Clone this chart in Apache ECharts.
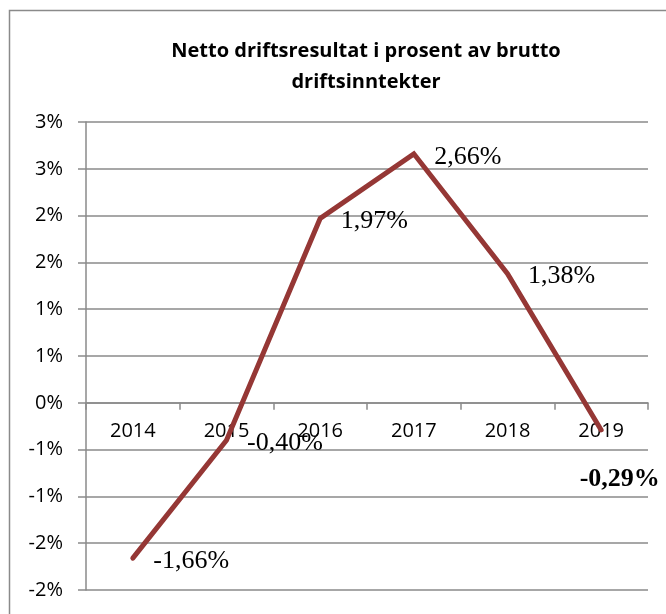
<!DOCTYPE html>
<html>
<head>
<meta charset="utf-8">
<script src="https://cdn.jsdelivr.net/npm/echarts@6/dist/echarts.min.js"></script>
<style>
  html, body { margin: 0; padding: 0; background: #fff; }
  #chart { width: 666px; height: 614px; }
</style>
</head>
<body>
<div id="chart"></div>
<script>
// data
const years = ["2014", "2015", "2016", "2017", "2018", "2019"];
const nettoPct = [-1.66, -0.40, 1.97, 2.66, 1.38, -0.29];
const valueLabels = ["-1,66%", "-0,40%", "1,97%", "2,66%", "1,38%", "-0,29%"];
// Excel rounds the 0.5 steps to whole percents
const yTickLabels = ["-2%", "-2%", "-1%", "-1%", "0%", "1%", "1%", "2%", "2%", "3%", "3%"];

const lineColor = "#953735";
const axisGray = "#8a8a8a";
const sansFont = "Open Sans";
const serifFont = "Liberation Serif";
const yMin = -2;
const yMax = 3;

const chart = echarts.init(document.getElementById("chart"));

const seriesData = nettoPct.map((v, i) => {
    const item = { value: v };
    // last label is bold and moved below the point
    if (i === nettoPct.length - 1) {
        item.label = { fontWeight: "bold", offset: [-42, 49] };
    }
    return item;
});

chart.setOption({
    animation: false,
    title: {
        text: "Netto driftsresultat i prosent av brutto\ndriftsinntekter",
        left: 361,
        top: 31,
        textAlign: "center",
        textStyle: {
            fontFamily: sansFont,
            fontWeight: "bold",
            fontSize: 20,
            lineHeight: 31,
            color: "#000"
        }
    },
    graphic: [
        {
            type: "rect",
            shape: { x: 9.5, y: 10.5, width: 700, height: 700 },
            style: { fill: "none", stroke: axisGray, lineWidth: 1.5 },
            silent: true
        }
    ],
    grid: { left: 86, right: 18, top: 122, bottom: 24, outerBoundsMode: "none" },
    xAxis: {
        type: "category",
        data: years,
        boundaryGap: true,
        axisLine: { onZero: false, lineStyle: { color: axisGray, width: 1.5 } },
        axisTick: { show: true, length: 7, lineStyle: { color: axisGray, width: 1.5 } },
        axisLabel: {
            margin: 18,
            fontFamily: sansFont,
            fontSize: 20,
            color: "#000"
        },
        splitLine: { show: false }
    },
    yAxis: {
        type: "value",
        min: yMin,
        max: yMax,
        interval: 0.5,
        axisLine: { show: true, lineStyle: { color: axisGray, width: 1.5 } },
        axisTick: { show: true, length: 8, lineStyle: { color: axisGray, width: 1.5 } },
        axisLabel: {
            margin: 23,
            fontFamily: sansFont,
            fontSize: 20,
            color: "#000",
            formatter: (value, index) => yTickLabels[index]
        },
        splitLine: { show: true, lineStyle: { color: axisGray, width: 1.5 } }
    },
    series: [
        {
            type: "line",
            data: seriesData,
            showSymbol: true,
            symbol: "circle",
            symbolSize: 1,
            itemStyle: { color: lineColor },
            lineStyle: { color: lineColor, width: 5, cap: "round", join: "miter" },
            label: {
                show: true,
                position: "right",
                distance: 20,
                offset: [0, 3],
                fontFamily: serifFont,
                fontSize: 26,
                color: "#000",
                formatter: p => valueLabels[p.dataIndex]
            }
        }
    ]
});

// put the category axis (line, ticks and labels) on the 0 line
const zeroPx = chart.convertToPixel({ yAxisIndex: 0 }, 0);
const bottomPx = chart.convertToPixel({ yAxisIndex: 0 }, yMin);
chart.setOption({ xAxis: { offset: -(bottomPx - zeroPx) } });
</script>
</body>
</html>
